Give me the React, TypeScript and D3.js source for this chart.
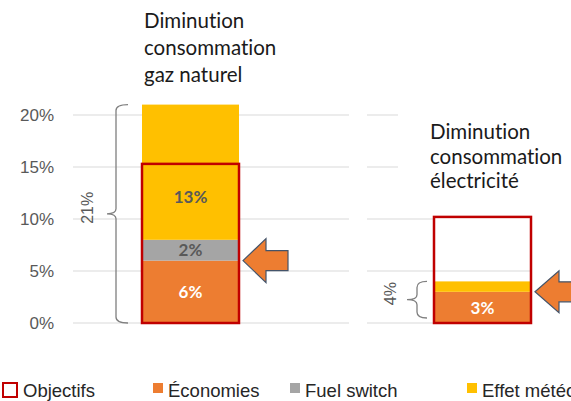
import React from "react";
import * as d3 from "d3";

// ---- data ----
const titleLines: string[][] = [
  ["Diminution", "consommation", "gaz naturel"],
  ["Diminution", "consommation", "électricité"],
];
const economies = [6, 3];
const fuelSwitch = [2, 0];
const effetMeteo = [13, 1];
const objectifs = [15.3, 10.2];
const yTicks = [0, 5, 10, 15, 20];
const seriesNames = ["Économies", "Fuel switch", "Effet météo"];
const legendLabels = ["Objectifs", "Économies", "Fuel switch", "Effet météo"];

// ---- style / layout ----
const COLORS = ["#ED7D31", "#A5A5A5", "#FFC000"];
const RED = "#C00000";
const GRID = "#D9D9D9";
const AXIS_TXT = "#595959";
const panels = [
  { gx0: 73, gx1: 349, titleDx: 2, baselines: [28, 55, 82], braceDx: -26, hook: 12, tip: 9, braceBotInset: 0, labelDx: -55, arrowHead: 23, arrowHalf: 22, arrowLen: 45 },
  { gx0: 367, gx1: 530, titleDx: -4, baselines: [139, 163.5, 188], braceDx: -17, hook: 10, tip: 10, braceBotInset: 5, labelDx: -44, arrowHead: 24, arrowHalf: 21, arrowLen: 45 },
];
const legendX = [2, 153, 290, 467];

function bracePath(xv: number, yTop: number, yBot: number, hook: number, tip: number) {
  const mid = (yTop + yBot) / 2;
  return `M${xv + hook},${yTop} Q${xv},${yTop} ${xv},${yTop + 6} L${xv},${mid - 5} Q${xv},${mid} ${xv - tip},${mid} Q${xv},${mid} ${xv},${mid + 5} L${xv},${yBot - 6} Q${xv},${yBot} ${xv + hook},${yBot}`;
}

function arrowPath(tx: number, ty: number, head: number, half: number, shaftHalf: number, len: number) {
  const hb = tx + head;
  return `M${tx},${ty} L${hb},${ty - half} L${hb},${ty - shaftHalf} L${tx + len},${ty - shaftHalf} L${tx + len},${ty + shaftHalf} L${hb},${ty + shaftHalf} L${hb},${ty + half} Z`;
}

export default function App() {
  const W = 571, H = 401;
  const y = d3.scaleLinear().domain([0, 20]).range([323, 115]);
  const x = d3
    .scaleBand<number>()
    .domain([0, 1])
    .range([142, 142 + 389])
    .paddingInner(195 / 292)
    .paddingOuter(0);
  const bw = x.bandwidth();

  const stackData = titleLines.map((_, i) => ({
    economies: economies[i],
    fuel: fuelSwitch[i],
    meteo: effetMeteo[i],
  }));
  const stack = d3.stack<any>().keys(["economies", "fuel", "meteo"]);
  const series = stack(stackData);
  const titleFont = "Lato, 'Open Sans', sans-serif";
  const sansFont = "'Liberation Sans', Arial, sans-serif";

  return (
    <svg width={W} height={H} style={{ position: "absolute", left: 0, top: 0, background: "#fff" }}>
      {/* gridlines */}
      {panels.map((p, pi) =>
        yTicks.map((t) => (
          <line key={`g${pi}-${t}`} x1={p.gx0} x2={p.gx1} y1={y(t)} y2={y(t)} stroke={GRID} strokeWidth={1} />
        ))
      )}
      {/* y tick labels */}
      {yTicks.map((t) => (
        <text key={`t${t}`} x={54} y={y(t)} dy="0.35em" textAnchor="end" fontFamily={sansFont} fontSize={17} fill={AXIS_TXT}>
          {t}%
        </text>
      ))}
      {/* white backdrop of the right title */}
      <rect x={398} y={100} width={173} height={105} fill="#fff" />
      {/* white interior of the right objective box (hides gridline above 7%) */}
      <rect x={x(1)!} y={y(objectifs[1])} width={bw} height={y(7) - y(objectifs[1])} fill="#fff" />
      {/* stacked bars */}
      {series.map((s, si) =>
        s.map((d, i) =>
          d[1] - d[0] > 0 ? (
            <rect key={`b${si}-${i}`} x={x(i)!} y={y(d[1])} width={bw} height={y(d[0]) - y(d[1])} fill={COLORS[si]} />
          ) : null
        )
      )}
      {/* segment labels */}
      {series.map((s, si) =>
        s.map((d, i) => {
          const v = d[1] - d[0];
          if (v < 2) return null;
          const top = Math.min(d[1], objectifs[i]);
          const mid = (d[0] + top) / 2;
          return (
            <text
              key={`l${si}-${i}`}
              x={x(i)! + bw / 2}
              y={y(mid) - (top < d[1] ? 5 : 0)}
              dy="0.36em"
              textAnchor="middle"
              fontFamily={titleFont}
              fontWeight="bold"
              fontSize={17}
              fill={si === 0 ? "#fff" : AXIS_TXT}
            >
              {v}%
            </text>
          );
        })
      )}
      {/* objective boxes */}
      {objectifs.map((o, i) => (
        <rect key={`o${i}`} x={x(i)!} y={y(o)} width={bw} height={y(0) - y(o)} fill="none" stroke={RED} strokeWidth={2.5} />
      ))}
      {/* braces with totals */}
      {stackData.map((d, i) => {
        const total = d.economies + d.fuel + d.meteo;
        const p = panels[i];
        const xv = x(i)! + p.braceDx;
        const yTop = y(total);
        const yBot = y(0) - p.braceBotInset;
        const lx = x(i)! + p.labelDx;
        const ly = (yTop + yBot) / 2 - 6;
        return (
          <g key={`br${i}`}>
            <path d={bracePath(xv, yTop, yBot, p.hook, p.tip)} fill="none" stroke="#7F7F7F" strokeWidth={1.3} />
            <text
              transform={`translate(${lx},${ly}) rotate(-90)`}
              textAnchor="middle"
              dy="0.35em"
              fontFamily={sansFont}
              fontSize={16}
              fill={AXIS_TXT}
            >
              {total}%
            </text>
          </g>
        );
      })}
      {/* arrows pointing at the savings */}
      {economies.map((e, i) => {
        const p = panels[i];
        return (
          <path
            key={`a${i}`}
            d={arrowPath(x(i)! + bw + 4, y(e), p.arrowHead, p.arrowHalf, 10, p.arrowLen)}
            fill="#ED7D31"
            stroke="#44546A"
            strokeWidth={1.2}
            strokeLinejoin="miter"
          />
        );
      })}
      {/* titles */}
      {titleLines.map((lines, i) =>
        lines.map((ln, li) => (
          <text
            key={`ti${i}-${li}`}
            x={x(i)! + panels[i].titleDx}
            y={panels[i].baselines[li]}
            fontFamily={titleFont}
            fontSize={20.5}
            fill="#1a1a1a"
            style={{ fontVariantLigatures: "none" }}
          >
            {ln}
          </text>
        ))
      )}
      {/* legend */}
      <g fontFamily={sansFont} fontSize={18.5} fill="#262626">
        <rect x={legendX[0] + 1} y={383} width={14} height={14} fill="none" stroke={RED} strokeWidth={2} />
        <text x={legendX[0] + 21} y={397}>{legendLabels[0]}</text>
        {seriesNames.map((n, si) => (
          <g key={`lg${si}`}>
            <rect x={legendX[si + 1]} y={383} width={10} height={10} fill={COLORS[si]} />
            <text x={legendX[si + 1] + 15} y={397}>{legendLabels[si + 1]}</text>
          </g>
        ))}
      </g>
    </svg>
  );
}
